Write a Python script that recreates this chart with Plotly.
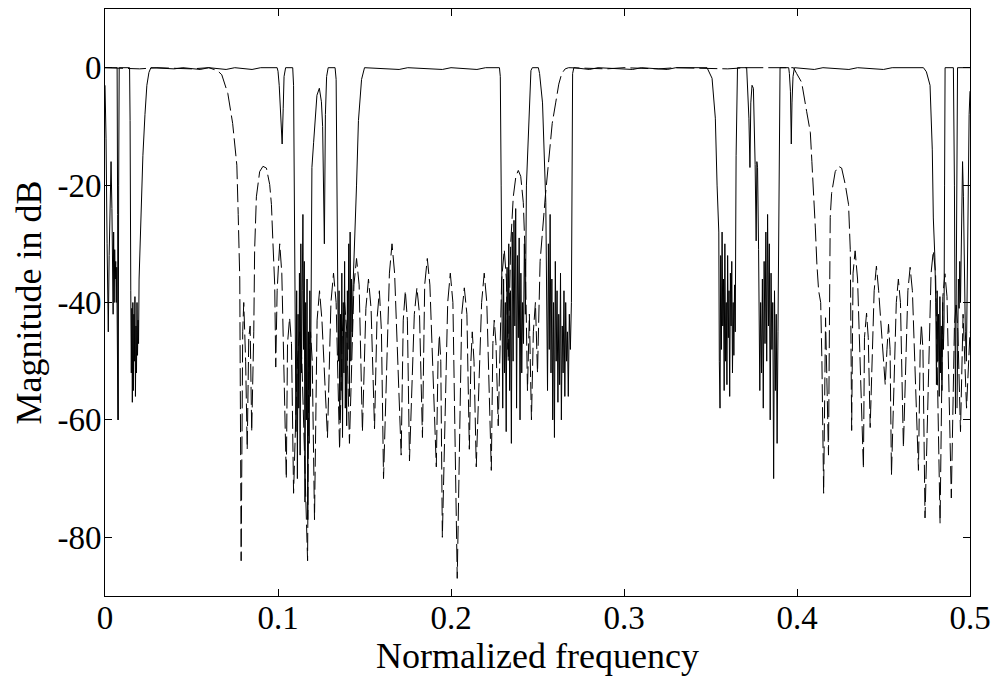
import plotly.graph_objects as go

# ---------------- data (normalized frequency, dB) -------------
x_ticks = [0, 0.1, 0.2, 0.3, 0.4, 0.5]
x_tick_labels = ["0", "0.1", "0.2", "0.3", "0.4", "0.5"]
y_ticks = [-80, -60, -40, -20, 0]
y_tick_labels = ["-80", "-60", "-40", "-20", "0"]

# solid curve, main path (left part)
solid_seg_a = [
    (0.0000, 0), (0.0070, 0), (0.0073, -25), (0.0076, -60), (0.0079, -20), (0.0082, 0),
    (0.0142, 0), (0.0145, -9), (0.0149, -38), (0.0152, -52), (0.0155, -41), (0.0158, -57),
    (0.0161, -40), (0.0164, -55), (0.0167, -42), (0.0170, -50), (0.0173, -39), (0.0176, -56),
    (0.0179, -44), (0.0182, -52), (0.0185, -40), (0.0188, -49), (0.0191, -43), (0.0194, -47),
    (0.0197, -36), (0.0208, -25), (0.0219, -15), (0.0231, -8), (0.0242, -3), (0.0254, -0.8),
    (0.0265, 0), (0.0400, -0.2), (0.0450, 0), (0.0550, -0.3), (0.0600, 0), (0.0700, -0.3),
    (0.0750, 0), (0.0850, -0.3), (0.0900, 0), (0.0995, 0), (0.1000, -0.6), (0.1007, -3),
    (0.1015, -7), (0.1024, -13), (0.1030, -7), (0.1035, -1.5), (0.1044, 0), (0.1085, 0),
    (0.1090, -3), (0.1095, -20), (0.1100, -42),
]
solid_seg_b = [
    (0.1104, -62), (0.1108, -38), (0.1112, -70), (0.1116, -42), (0.1120, -58), (0.1124, -35),
    (0.1128, -66), (0.1132, -30), (0.1136, -52), (0.1140, -38), (0.1144, -25), (0.1148, -48),
    (0.1152, -33), (0.1156, -74), (0.1160, -40), (0.1164, -60), (0.1168, -36), (0.1172, -77),
    (0.1176, -45), (0.1180, -64), (0.1184, -38), (0.1188, -56), (0.1192, -30), (0.1196, -17),
    (0.1206, -12.7), (0.1216, -8.6), (0.1225, -4.7), (0.1239, -3.5), (0.1251, -5.8),
    (0.1258, -10), (0.1263, -18), (0.1268, -30), (0.1274, -8), (0.1281, -1.5), (0.1290, 0),
    (0.1330, 0), (0.1336, -2), (0.1341, -15), (0.1345, -36), (0.1349, -50), (0.1353, -38),
    (0.1357, -60), (0.1361, -42), (0.1365, -55), (0.1369, -35), (0.1373, -63), (0.1377, -40),
    (0.1381, -52), (0.1385, -33), (0.1389, -58), (0.1393, -45), (0.1397, -61), (0.1401, -38),
    (0.1405, -48), (0.1409, -30), (0.1413, -56), (0.1417, -28), (0.1421, -50), (0.1425, -36),
    (0.1429, -45), (0.1434, -37), (0.1454, -20), (0.1465, -9), (0.1483, -2), (0.1500, 0),
]
solid_seg_c = [
    (0.1700, -0.3), (0.1750, 0), (0.1950, -0.3), (0.2000, 0), (0.2150, -0.3), (0.2200, 0),
    (0.2280, 0), (0.2285, -1.5), (0.2290, -20), (0.2294, -45), (0.2299, -58), (0.2304, -36),
    (0.2309, -52), (0.2314, -40), (0.2319, -62), (0.2324, -34), (0.2329, -48), (0.2334, -30),
    (0.2339, -55), (0.2344, -38), (0.2349, -64), (0.2354, -28), (0.2359, -50), (0.2364, -26),
    (0.2369, -44), (0.2374, -24), (0.2379, -58), (0.2384, -32), (0.2389, -46), (0.2394, -29),
    (0.2399, -60), (0.2404, -35), (0.2409, -52), (0.2414, -40), (0.2419, -47), (0.2424, -30),
    (0.2430, -42), (0.2436, -20), (0.2452, -6), (0.2462, -0.5), (0.2470, 0), (0.2505, 0),
    (0.2512, -1), (0.2529, -6), (0.2548, -23), (0.2553, -40), (0.2558, -55), (0.2563, -30),
    (0.2568, -48), (0.2573, -25), (0.2578, -52), (0.2583, -36), (0.2588, -60), (0.2593, -40),
    (0.2598, -63), (0.2603, -33), (0.2608, -50), (0.2613, -38), (0.2618, -57), (0.2623, -42),
    (0.2628, -54), (0.2633, -35), (0.2638, -60), (0.2643, -44), (0.2648, -52), (0.2653, -38),
    (0.2658, -56), (0.2663, -40), (0.2668, -50), (0.2673, -45), (0.2678, -56), (0.2684, -42),
    (0.2690, -48), (0.2696, -40), (0.2699, -10), (0.2703, -1), (0.2710, 0),
]
solid_seg_d = [
    (0.2800, -0.3), (0.2850, 0), (0.3050, -0.3), (0.3100, 0), (0.3250, -0.3), (0.3300, 0),
    (0.3480, 0), (0.3509, -1.8), (0.3528, -8.6), (0.3538, -20), (0.3548, -28), (0.3551, -50),
    (0.3555, -58), (0.3559, -32), (0.3563, -48), (0.3567, -28), (0.3571, -44), (0.3575, -36),
    (0.3579, -55), (0.3583, -30), (0.3587, -50), (0.3591, -40), (0.3595, -54), (0.3599, -32),
    (0.3603, -46), (0.3607, -38), (0.3611, -56), (0.3615, -35), (0.3619, -44), (0.3623, -33),
    (0.3627, -52), (0.3631, -40), (0.3635, -49), (0.3639, -37), (0.3643, -45), (0.3648, -15),
    (0.3652, -1), (0.3656, 0), (0.3709, 0), (0.3715, -3), (0.3722, -8.6), (0.3728, -17),
    (0.3733, -6), (0.3740, -3), (0.3748, -3.5), (0.3758, -16.5), (0.3764, -29.5),
    (0.3768, -16), (0.3772, -17), (0.3778, -31), (0.3785, -55), (0.3790, -40), (0.3795, -52),
    (0.3800, -36), (0.3805, -58), (0.3810, -33), (0.3815, -47), (0.3820, -28), (0.3825, -50),
    (0.3830, -25), (0.3835, -44), (0.3840, -30), (0.3845, -60), (0.3850, -35), (0.3855, -48),
    (0.3860, -40), (0.3865, -70), (0.3870, -38), (0.3875, -55), (0.3880, -42), (0.3885, -64),
    (0.3890, -45), (0.3894, -30), (0.3898, -5), (0.3902, 0),
]
solid_seg_e = [
    (0.3952, 0), (0.3956, -1), (0.3962, -4), (0.3967, -13), (0.3971, -6), (0.3977, -1.5),
    (0.3985, 0), (0.4100, -0.3), (0.4150, 0), (0.4300, -0.3), (0.4350, 0), (0.4500, -0.3),
    (0.4550, 0), (0.4731, 0), (0.4748, -0.7), (0.4769, -3), (0.4782, -14), (0.4788, -25.6),
    (0.4797, -32.4), (0.4802, -40), (0.4806, -54), (0.4810, -38), (0.4814, -50), (0.4818, -42),
    (0.4822, -56), (0.4826, -39), (0.4830, -52), (0.4834, -44), (0.4838, -55), (0.4842, -40),
    (0.4846, -48), (0.4850, -43), (0.4853, -20), (0.4856, 0), (0.4904, 0), (0.4910, -20),
    (0.4916, -59), (0.4922, -25), (0.4928, 0), (0.5000, 0),
]
# solid curve, band-edge branches
solid_edge_left = [
    (0.0000, -3), (0.0006, -12), (0.0012, -30), (0.0019, -45), (0.0024, -32), (0.0030, -20),
    (0.0035, -16), (0.0040, -24), (0.0044, -35), (0.0047, -42), (0.0050, -28), (0.0053, -40),
    (0.0056, -31), (0.0059, -36), (0.0062, -33), (0.0065, -40), (0.0068, -34), (0.0071, -45),
    (0.0075, -60),
]
solid_edge_right = [
    (0.4925, -58), (0.4929, -44), (0.4933, -36), (0.4937, -41), (0.4941, -33), (0.4945, -40),
    (0.4949, -30), (0.4953, -24), (0.4957, -16), (0.4962, -22), (0.4967, -33), (0.4973, -45),
    (0.4979, -50), (0.4985, -35), (0.4990, -18), (0.4995, -8), (0.5000, -4),
]

# dashed curve
dashed_band1 = [
    (0.0000, 0), (0.0200, -0.2), (0.0300, 0), (0.0500, -0.2), (0.0600, 0), (0.0650, -0.5),
    (0.0675, -1.2), (0.0710, -4.4), (0.0738, -9.5), (0.0762, -16.6), (0.0770, -25),
    (0.0779, -36), (0.0787, -84), (0.0796, -45), (0.0802, -40), (0.0813, -50), (0.0822, -65),
    (0.0831, -46), (0.0839, -44), (0.0848, -62), (0.0860, -45), (0.0865, -31), (0.0875, -22),
    (0.0894, -17.7), (0.0913, -16.8), (0.0933, -17.1), (0.0952, -19.9), (0.0962, -23.3),
    (0.0971, -30), (0.0981, -37), (0.0987, -51), (0.0995, -38),
]
dashed_stop1 = [
    (0.1004, -33), (0.1010, -30), (0.1022, -35), (0.1048, -70), (0.1055, -47), (0.1067, -42.6),
    (0.1078, -47), (0.1090, -72.5), (0.1112, -50), (0.1125, -45), (0.1138, -50), (0.1171, -84),
    (0.1178, -50), (0.1188, -45), (0.1198, -50), (0.1211, -77), (0.1226, -43), (0.1240, -38),
    (0.1254, -43), (0.1286, -63), (0.1306, -40), (0.1321, -35), (0.1336, -40), (0.1356, -65),
    (0.1372, -45), (0.1385, -40), (0.1398, -45), (0.1413, -64), (0.1439, -37), (0.1454, -32.5),
    (0.1469, -37), (0.1488, -62), (0.1508, -41), (0.1523, -36), (0.1538, -41), (0.1558, -61.5),
    (0.1572, -43), (0.1586, -38), (0.1598, -45), (0.1610, -70), (0.1644, -35), (0.1659, -30),
    (0.1674, -35), (0.1712, -66), (0.1724, -43), (0.1736, -38), (0.1748, -43), (0.1760, -67),
    (0.1788, -42), (0.1803, -37.5), (0.1818, -42), (0.1835, -63), (0.1848, -37),
    (0.1863, -32.5), (0.1878, -37), (0.1915, -68), (0.1925, -50), (0.1933, -45.5),
    (0.1941, -50), (0.1950, -80), (0.1981, -40), (0.1996, -35), (0.2011, -40), (0.2036, -87),
    (0.2062, -42), (0.2077, -37.5), (0.2092, -42), (0.2106, -65), (0.2115, -50), (0.2123, -45),
    (0.2133, -50), (0.2146, -68), (0.2177, -40), (0.2192, -35), (0.2207, -40), (0.2233, -68.6),
    (0.2242, -47), (0.2250, -43), (0.2260, -47), (0.2273, -61), (0.2293, -36), (0.2308, -31),
    (0.2320, -36), (0.2331, -50), (0.2345, -30), (0.2360, -22), (0.2375, -18.5),
    (0.2389, -17.5), (0.2403, -18.5), (0.2418, -23), (0.2430, -33), (0.2442, -55),
    (0.2453, -42), (0.2465, -60), (0.2476, -45), (0.2488, -40), (0.2500, -52), (0.2515, -33),
]
dashed_band2 = [
    (0.2545, -22), (0.2565, -15), (0.2585, -9.5), (0.2605, -6), (0.2623, -2.8), (0.2640, -1),
    (0.2660, -0.2), (0.2680, 0), (0.2900, -0.2), (0.3000, 0), (0.3200, -0.2), (0.3300, 0),
    (0.3600, -0.2), (0.3700, 0), (0.3980, 0), (0.3998, -1), (0.4027, -2.5), (0.4056, -7.5),
    (0.4077, -11), (0.4086, -16), (0.4096, -21), (0.4106, -27.3), (0.4115, -33.5),
    (0.4125, -38), (0.4137, -40), (0.4144, -50), (0.4154, -72.5), (0.4165, -42.6),
]
dashed_stop2 = [
    (0.4182, -66), (0.4192, -25.5), (0.4200, -21.4), (0.4221, -17.7), (0.4240, -16.8),
    (0.4258, -17.1), (0.4279, -19.9), (0.4298, -23.3), (0.4308, -31), (0.4316, -61.8),
    (0.4324, -35), (0.4336, -31.2), (0.4350, -36), (0.4384, -68.3), (0.4390, -46),
    (0.4402, -41.8), (0.4412, -46), (0.4423, -61.3), (0.4446, -38), (0.4459, -33.8),
    (0.4472, -38), (0.4510, -54), (0.4520, -48), (0.4529, -43.7), (0.4538, -48),
    (0.4546, -69.4), (0.4574, -40), (0.4586, -36), (0.4598, -40), (0.4615, -64.7),
    (0.4641, -38), (0.4654, -34), (0.4667, -38), (0.4702, -68.6), (0.4712, -48),
    (0.4719, -43.7), (0.4728, -48), (0.4740, -76.7), (0.4775, -35), (0.4788, -31.2),
    (0.4801, -35), (0.4827, -77.6), (0.4843, -39), (0.4855, -35.1), (0.4867, -39),
    (0.4892, -73.3), (0.4910, -44), (0.4920, -40), (0.4930, -45), (0.4945, -62),
    (0.4960, -42), (0.4980, -58), (0.5000, -45),
]


def join(*segments, gap=False):
    xs, ys = [], []
    for i, seg in enumerate(segments):
        if gap and i > 0:
            xs.append(None)
            ys.append(None)
        xs.extend(p[0] for p in seg)
        ys.extend(p[1] for p in seg)
    return xs, ys


main_x, main_y = join(solid_seg_a, solid_seg_b, solid_seg_c, solid_seg_d, solid_seg_e)
edge_x, edge_y = join(solid_edge_left, solid_edge_right, gap=True)
dash_x, dash_y = join(dashed_band1, dashed_stop1, dashed_band2, dashed_stop2)

FONT = "Liberation Serif, Times New Roman, serif"

fig = go.Figure()
fig.add_trace(go.Scatter(x=dash_x, y=dash_y, mode="lines",
                         line=dict(color="black", width=1, dash="18px,5px"),
                         showlegend=False, hoverinfo="skip"))
fig.add_trace(go.Scatter(x=main_x, y=main_y, mode="lines",
                         line=dict(color="black", width=1),
                         showlegend=False, hoverinfo="skip"))
fig.add_trace(go.Scatter(x=edge_x, y=edge_y, mode="lines",
                         line=dict(color="black", width=1),
                         showlegend=False, hoverinfo="skip", connectgaps=False))

axis_common = dict(showline=True, linecolor="black", linewidth=1, mirror="ticks",
                   ticks="inside", ticklen=7, tickwidth=1, tickcolor="black",
                   showgrid=False, zeroline=False,
                   tickfont=dict(family=FONT, size=33, color="black"))

fig.update_layout(
    width=999, height=680,
    margin=dict(l=105, r=27, t=8, b=84),
    paper_bgcolor="white", plot_bgcolor="white",
    xaxis=dict(range=[0, 0.5], tickvals=x_ticks, ticktext=x_tick_labels,
               ticklabelstandoff=-8,
               title=dict(text="Normalized frequency", standoff=3,
                          font=dict(family=FONT, size=36, color="black")),
               **axis_common),
    yaxis=dict(range=[-90, 10], tickvals=y_ticks, ticktext=y_tick_labels,
               ticklabelstandoff=-4,
               title=dict(text="Magnitude in dB", standoff=4,
                          font=dict(family=FONT, size=36, color="black")),
               **axis_common),
)

fig.write_html("out.html",
               config={"displayModeBar": False},
               post_script="document.body.style.margin='0';"
                           "document.body.style.overflow='hidden';")
